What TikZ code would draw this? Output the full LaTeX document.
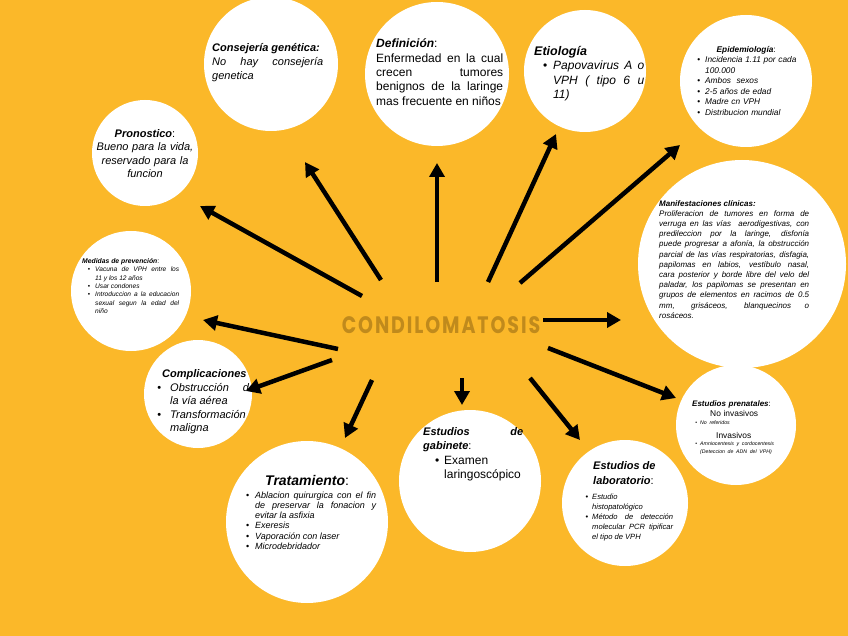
\documentclass[tikz,border=0pt]{standalone}
\usepackage{fontspec}
\setmainfont{Liberation Sans}
\newfontfamily\titlefont{Poppins}[LetterSpace=10]
\usepackage{enumitem}
\usetikzlibrary{arrows.meta}

\definecolor{bgorange}{HTML}{FBB829}
\definecolor{titlebrown}{HTML}{C08A1C}

\newcommand{\hd}[1]{\textbf{\textit{#1}}}
\newcommand{\fsz}[2]{\fontsize{#1}{#2}\selectfont}
\setlist[itemize]{label=\textbullet, nosep}

\begin{document}
\begin{tikzpicture}[x=1pt, y=-1pt,
    bubble/.style={circle, fill=white, inner sep=0pt, minimum size=#1},
    txt/.style={anchor=north west, inner sep=0pt, align=justify},
    link/.style={line width=4.5pt, -{Triangle[length=14pt, width=15pt]}},
]

% Background
\fill[bgorange] (0,0) rectangle (848,636);
\useasboundingbox (0,0) rectangle (848,636);

% === Circles ===
\node[bubble=134pt] (conC)  at (271,64)  {};
\node[bubble=144pt] (defC)  at (437,74)  {};
\node[bubble=122pt] (etiC)  at (585,71)  {};
\node[bubble=132pt] (epiC)  at (746,81)  {};
\node[bubble=106pt] (proC)  at (145,153) {};
\node[bubble=208pt] (manC)  at (742,264) {};
\node[bubble=120pt] (medC)  at (131,291) {};
\node[bubble=108pt] (comC)  at (198,394) {};
\node[bubble=162pt] (traC)  at (307,522) {};
\node[bubble=142pt] (gabC)  at (470,481) {};
\node[bubble=126pt] (labC)  at (625,503) {};
\node[bubble=120pt] (preC)  at (736,425) {};

% === Texts ===
\node[txt, text width=111pt, font=\fsz{11}{14}] (conT) at (212,43.5)
  {\hd{Consejería genética:}\\ \textit{No hay consejería\linebreak genetica}};

\node[txt, text width=127pt, font=\fsz{12}{14.3}] (defT) at (376,39)
  {\hd{Definición}:\\ Enfermedad en la cual\linebreak crecen tumores\linebreak
   benignos de la laringe\linebreak mas frecuente en niños};

\node[txt, text width=110pt, font=\fsz{12}{14.5}] (etiT) at (534,46)
  {{\fsz{12.5}{15}\hd{Etiología}\par}
   \begin{itemize}[leftmargin=19pt, labelsep=6pt]
     \item \textit{Papovavirus A o\linebreak VPH ( tipo 6 u\linebreak 11)}
   \end{itemize}};

\node[txt, align=left, text width=108pt, font=\fsz{8.3}{10.5}] (epiT) at (692,46)
  {\centerline{\hd{Epidemiología}:}
   \begin{itemize}[leftmargin=13pt, labelsep=5pt]
     \item \textit{Incidencia 1.11 por cada\newline 100.000}
     \item \textit{Ambos\ \ sexos}
     \item \textit{2-5 años de edad}
     \item \textit{Madre cn VPH}
     \item \textit{Distribucion mundial}
   \end{itemize}};

\node[anchor=north, inner sep=0pt, align=center, text width=110pt, font=\fsz{11}{13.5}] (proT) at (145,129)
  {\hd{Pronostico}:\\ \textit{Bueno para la vida,\\ reservado para la\\ funcion}};

\node[txt, text width=150pt, font=\fsz{8}{10.2}] (manT) at (659,200)
  {\hd{Manifestaciones clínicas:}\\
   \textit{Proliferacion de tumores en forma de\linebreak
   verruga en las vías\ \ aerodigestivas, con\linebreak
   predileccion por la laringe, disfonía\linebreak
   puede progresar a afonía, la obstrucción\linebreak
   parcial de las vías respiratorias, disfagia,\linebreak
   papilomas en labios, vestíbulo nasal,\linebreak
   cara posterior y borde libre del velo del\linebreak
   paladar, los papilomas se presentan en\linebreak
   grupos de elementos en racimos de 0.5\linebreak
   mm, grisáceos, blanquecinos o\linebreak
   rosáceos.}};

\node[txt, text width=97pt, font=\fsz{6.6}{8.3}] (medT) at (82,258.5)
  {{\fsz{6.8}{8.3}\hd{Medidas de prevención}:\par}
   \begin{itemize}[leftmargin=13pt, labelsep=5pt]
     \item \textit{Vacuna de VPH entre los\linebreak 11 y los 12 años}
     \item \textit{Usar condones}
     \item \textit{Introduccion a la educacion\linebreak sexual segun la edad del\linebreak niño}
   \end{itemize}};

\node[txt, text width=107pt, font=\fsz{11}{13.5}] (comT) at (148,369.5)
  {\hspace*{14pt}\hd{Complicaciones}\par
   \begin{itemize}[leftmargin=22pt, labelsep=9pt]
     \item \textit{Obstrucción de\linebreak la vía aérea}
     \item \textit{Transformación\newline maligna}
   \end{itemize}};

\node[txt, text width=133pt, font=\fsz{9}{10.3}] (traT) at (243,475)
  {{\fsz{14}{18}\hspace*{22pt}\hd{Tratamiento}:\par}
   \vspace{2.4pt}
   \begin{itemize}[leftmargin=12pt, labelsep=6pt]
     \item \textit{Ablacion quirurgica con el fin\linebreak de preservar la fonacion y\linebreak evitar la asfixia}
     \item \textit{Exeresis}
     \item \textit{Vaporación con laser}
     \item \textit{Microdebridador}
   \end{itemize}};

\node[txt, align=left, text width=100pt, font=\fsz{11}{14}] (gabT) at (423,427.5)
  {\hd{Estudios}\hfill\hd{de}\\ \hd{gabinete}:\par
   {\fsz{12}{14.5}
   \begin{itemize}[leftmargin=21pt, labelsep=5pt]
     \item Examen\newline laringoscópico
   \end{itemize}}};

\node[txt, align=left, font=\fsz{11}{15}] (labH) at (593,461.5)
  {\hd{Estudios de}\\ \hd{laboratorio}:};
\node[txt, text width=90pt, font=\fsz{7.6}{10}] (labT) at (583,489)
  {\begin{itemize}[leftmargin=9pt, labelsep=4pt]
     \item \textit{Estudio\newline histopatológico}
     \item \textit{Método de detección\linebreak molecular PCR tipificar\linebreak el tipo de VPH}
   \end{itemize}};

\node[txt, align=left, text width=92pt, font=\fsz{8}{9}] (preT) at (692,401)
  {{\fsz{8}{9}\hd{Estudios prenatales}:\par}
   {\fsz{8.4}{9.4}\hspace*{18pt}No invasivos\par}
   {\fsz{5.2}{8.5}
   \begin{itemize}[leftmargin=8pt, labelsep=3pt]
     \item \textit{No referidos}
   \end{itemize}}
   \vspace{4.5pt}
   {\fsz{8.4}{9}\hspace*{24pt}Invasivos\par}
   {\fsz{5.2}{7.5}
   \begin{itemize}[leftmargin=8pt, labelsep=3pt]
     \item \textit{Amniocentesis y cordocentesis\newline (Deteccion de ADN del VPH)}
   \end{itemize}}};

% === Center ===
\node[font=\titlefont\bfseries\fsz{19}{19}, text=titlebrown] (hub) at (441,325)
  {\scalebox{1}[1.25]{CONDILOMATOSIS}};

% === Arrows ===
\coordinate (t1)  at (381,280); \coordinate (h1)  at (305,162);
\coordinate (t2)  at (437,282); \coordinate (h2)  at (437,163);
\coordinate (t3)  at (488,282); \coordinate (h3)  at (556,134);
\coordinate (t4)  at (520,283); \coordinate (h4)  at (680,145);
\coordinate (t5)  at (362,296); \coordinate (h5)  at (200,206);
\coordinate (t6)  at (543,320); \coordinate (h6)  at (621,320);
\coordinate (t7)  at (338,349); \coordinate (h7)  at (203,320);
\coordinate (t8)  at (332,360); \coordinate (h8)  at (246,391);
\coordinate (t9)  at (372,380); \coordinate (h9)  at (345,438);
\coordinate (t10) at (462,378); \coordinate (h10) at (462,405);
\coordinate (t11) at (530,378); \coordinate (h11) at (580,440);
\coordinate (t12) at (548,348); \coordinate (h12) at (676,398);

\foreach \i in {1,...,12}
  \draw[link] (t\i) -- (h\i);
\end{tikzpicture}
\end{document}
